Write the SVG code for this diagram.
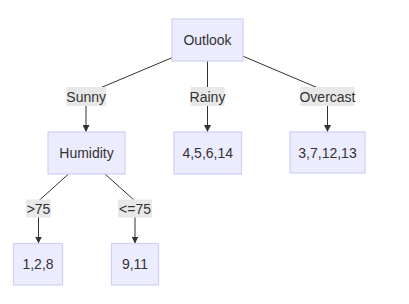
<svg xmlns="http://www.w3.org/2000/svg" width="409" height="304" viewBox="0 0 409 304">
<defs>
<style>
.node rect{fill:#ECECFF;stroke:#cfcff7;stroke-width:1.2}
.lbl rect{fill:#e8e8e8}
text{font-family:"Liberation Sans",Arial,sans-serif;font-size:14px;fill:#333;text-anchor:middle}
.edge{stroke:#333;stroke-width:1;fill:none}
.arr{marker-end:url(#ah)}
</style>
<marker id="ah" viewBox="0 0 10 10" refX="10" refY="5" markerWidth="7" markerHeight="7" markerUnits="userSpaceOnUse" orient="auto">
<path d="M0,0 L10,5 L0,10 z" fill="#333"/>
</marker>
</defs>
<rect width="409" height="304" fill="#fff"/>
<g id="connectors">
<path class="edge" d="M172.5,57.5 L100,88"/>
<path class="edge arr" d="M86,106 L86,132"/>
<path class="edge arr" d="M207.5,61 L207.5,132"/>
<path class="edge" d="M242.5,56 L318,88"/>
<path class="edge arr" d="M327.5,106 L327.5,132"/>
<path class="edge" d="M68.5,174 L38.5,201"/>
<path class="edge arr" d="M38.5,217 L38.5,243.5"/>
<path class="edge" d="M105,174 L135,201"/>
<path class="edge arr" d="M135,217 L135,243.5"/>
</g>
<g id="lbl-sunny" class="lbl"><rect x="66.5" y="87" width="39.5" height="19"/><text x="86.2" y="101.5">Sunny</text></g>
<g id="lbl-rainy" class="lbl"><rect x="190.5" y="87" width="34" height="19"/><text x="207.5" y="101.5">Rainy</text></g>
<g id="lbl-overcast" class="lbl"><rect x="300.5" y="87" width="54" height="19"/><text x="327.5" y="101.5">Overcast</text></g>
<g id="lbl-gt75" class="lbl"><rect x="26" y="199.5" width="25" height="18"/><text x="38.5" y="213.5">&gt;75</text></g>
<g id="lbl-le75" class="lbl"><rect x="118" y="199.5" width="34" height="18"/><text x="135" y="213.5">&lt;=75</text></g>
<g id="outlook" class="node"><rect x="172" y="19" width="71" height="42"/><text x="207.5" y="45">Outlook</text></g>
<g id="humidity" class="node"><rect x="48" y="132" width="77" height="42"/><text x="86.5" y="158">Humidity</text></g>
<g id="rainy-leaf" class="node"><rect x="174" y="132" width="67.5" height="42"/><text x="207.75" y="158">4,5,6,14</text></g>
<g id="overcast-leaf" class="node"><rect x="290" y="132" width="75" height="41"/><text x="327.5" y="158">3,7,12,13</text></g>
<g id="gt75-leaf" class="node"><rect x="13.5" y="243.5" width="49" height="41.5"/><text x="38" y="269">1,2,8</text></g>
<g id="le75-leaf" class="node"><rect x="111.5" y="243.5" width="47" height="41.5"/><text x="135" y="269">9,11</text></g>
</svg>
